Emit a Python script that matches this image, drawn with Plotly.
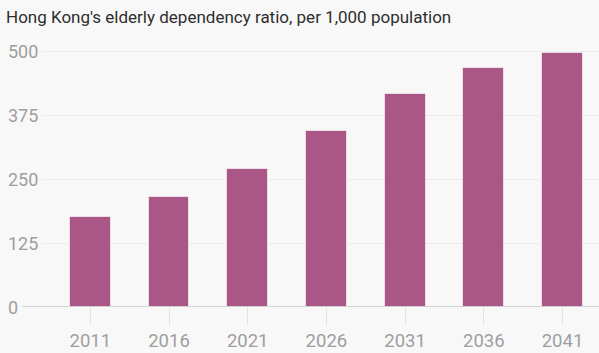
import plotly.graph_objects as go

years = [2011, 2016, 2021, 2026, 2031, 2036, 2041]
ratio = [176, 215, 271, 345, 417, 467, 497]
y_ticks = [0, 125, 250, 375, 500]
title = "Hong Kong's elderly dependency ratio, per 1,000 population"

BG = "#f8f8f8"
BAR = "#aa5687"

fig = go.Figure()
fig.add_trace(go.Bar(
    x=years, y=ratio, width=2.6,
    marker=dict(color=BAR, line=dict(color="rgba(255,255,255,0.6)", width=1)),
    hoverinfo="x+y",
))

annotations = []
for v in y_ticks:
    annotations.append(dict(
        x=-0.0646, xref="paper", y=v, yref="y", text=str(v),
        xanchor="left", yanchor="middle", showarrow=False,
        font=dict(family="Roboto", size=18, color="#9e9e9e"),
    ))

fig.update_layout(
    width=599, height=353,
    paper_bgcolor=BG, plot_bgcolor=BG,
    margin=dict(l=42, r=0, t=45, b=46),
    showlegend=False,
    title=dict(
        text=title, xref="container", yref="container",
        x=6 / 599, xanchor="left", y=1 - 17 / 353, yanchor="middle",
        font=dict(family="Roboto", size=17, color="#2e2e2e"),
    ),
    annotations=annotations,
    shapes=[dict(type="line", xref="paper", yref="y", x0=-0.036, x1=1,
                 y0=0, y1=0, line=dict(color="#c8c8c8", width=1.5), layer="above")],
    xaxis=dict(
        range=[2007.93, 2043.32], tickvals=years, ticktext=[str(y) for y in years],
        showgrid=False, zeroline=False, showline=False,
        ticks="outside", ticklen=17, tickcolor="#e2e2e2", tickwidth=1,
        tickfont=dict(family="Roboto", size=18.5, color="#9e9e9e"),
        fixedrange=True,
    ),
    yaxis=dict(
        range=[0, 513], tickvals=y_ticks, showticklabels=False,
        showgrid=True, gridcolor="#ececec", gridwidth=1,
        zeroline=False, showline=False, fixedrange=True,
    ),
    bargap=0,
)

fig.write_html("out.html")
